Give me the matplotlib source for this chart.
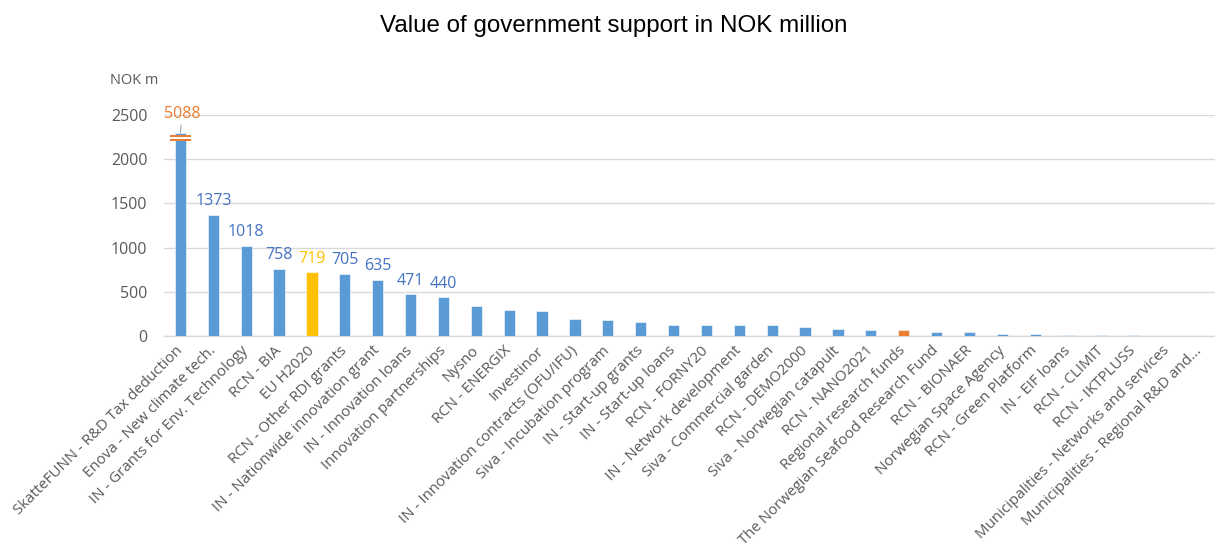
import matplotlib
matplotlib.use("Agg")
import matplotlib.pyplot as plt
from matplotlib.font_manager import findfont, FontProperties

categories = [
    "SkatteFUNN - R&D Tax deduction",
    "Enova - New climate tech.",
    "IN - Grants for Env. Technology",
    "RCN - BIA",
    "EU H2020",
    "RCN - Other RDI grants",
    "IN - Nationwide innovation grant",
    "IN - Innovation loans",
    "Innovation partnerships",
    "Nysno",
    "RCN - ENERGIX",
    "Investinor",
    "IN - Innovation contracts (OFU/IFU)",
    "Siva - Incubation program",
    "IN - Start-up grants",
    "IN - Start-up loans",
    "RCN - FORNY20",
    "IN - Network development",
    "Siva - Commercial garden",
    "RCN - DEMO2000",
    "Siva - Norwegian catapult",
    "RCN - NANO2021",
    "Regional research funds",
    "The Norwegian Seafood Research Fund",
    "RCN - BIONAER",
    "Norwegian Space Agency",
    "RCN - Green Platform",
    "IN - EIF loans",
    "RCN - CLIMIT",
    "RCN - IKTPLUSS",
    "Municipalities - Networks and services",
    "Municipalities - Regional R&D and...",
]
values = [5088, 1373, 1018, 758, 719, 705, 635, 471, 440,
          339, 290, 283, 192, 181, 162, 124, 124, 124, 120, 105,
          76, 70, 68, 49, 47, 25, 24, 15, 12, 12, 5, 3]
labelled = 9          # number of bars carrying a value label
axis_cap = 2300       # bars above this are drawn broken
yticks = [0, 500, 1000, 1500, 2000, 2500]

BLUE = "#5B9BD5"
LABEL_BLUE = "#4472C4"
GOLD = "#FFC000"
ORANGE = "#ED7D31"
GREY_TXT = "#595959"

bar_colors = [BLUE] * len(values)
bar_colors[4] = GOLD
bar_colors[22] = ORANGE
label_colors = [LABEL_BLUE] * labelled
label_colors[0] = ORANGE
label_colors[4] = GOLD

def pick(name, fallback="DejaVu Sans"):
    f = findfont(FontProperties(family=name), fallback_to_default=True)
    return name if name.lower().replace(" ", "") in f.lower().replace(" ", "").replace("-", "") else fallback

body_font = "Open Sans"
title_font = pick("Liberation Sans Narrow", "Liberation Sans")
title_size = 19 if title_font == "Liberation Sans Narrow" else 17.4

fig = plt.figure(figsize=(12.15, 5.54), dpi=100)
ax = fig.add_axes([164 / 1215, 1 - 336 / 554, (1216 - 164) / 1215, (336 - 115) / 554])

x = list(range(len(values)))
heights = [min(v, axis_cap) for v in values]
ax.bar(x, heights, width=0.34, color=bar_colors, edgecolor="white",
       linewidth=0.4, zorder=3)

ax.set_xlim(-0.5, len(values) - 0.5)
ax.set_ylim(0, 2500)
ax.set_yticks(yticks)
ax.set_yticklabels([str(t) for t in yticks], fontfamily=body_font,
                   fontsize=11.5, color=GREY_TXT)
ax.yaxis.grid(True, color="#D9D9D9", linewidth=1.0, zorder=0)
ax.tick_params(axis="y", length=0, pad=12)
ax.tick_params(axis="x", length=0, pad=9)
for s in ["top", "right", "left"]:
    ax.spines[s].set_visible(False)
ax.spines["bottom"].set_color("#D9D9D9")
ax.spines["bottom"].set_linewidth(1.0)

ax.set_xticks(x)
ax.set_xticklabels(categories, rotation=45, ha="right", va="center",
                   rotation_mode="anchor", fontfamily=body_font,
                   fontsize=10.8, color=GREY_TXT)

# break marker on the truncated first bar
ax.fill_between([-0.33, 0.33], 2203, 2274, color=ORANGE, zorder=4, linewidth=0)
ax.fill_between([-0.33, 0.33], 2232, 2246, color="white", zorder=5, linewidth=0)

# value labels
for i in range(labelled):
    if i == 0:
        ax.annotate(str(values[i]), xy=(0, heights[0]), xytext=(0.05, 2510),
                    ha="center", va="center", fontsize=11.5,
                    fontfamily=body_font, color=label_colors[i],
                    annotation_clip=False,
                    arrowprops=dict(arrowstyle="-", color="#A6A6A6",
                                    linewidth=0.8, shrinkA=7, shrinkB=0))
    else:
        ax.annotate(str(values[i]), xy=(i, heights[i]), xytext=(0, 4),
                    textcoords="offset points", ha="center", va="bottom",
                    fontsize=11.5, fontfamily=body_font,
                    color=label_colors[i], annotation_clip=False)

fig.text(110 / 1215, 1 - 80 / 554, "NOK m", fontfamily=body_font,
         fontsize=10.5, color=GREY_TXT, va="center", ha="left")
fig.text(614 / 1215, 1 - 26 / 554, "Value of government support in NOK million",
         fontfamily=title_font, fontsize=title_size, color="black",
         ha="center", va="center")

fig.savefig("out.png", dpi=100)
